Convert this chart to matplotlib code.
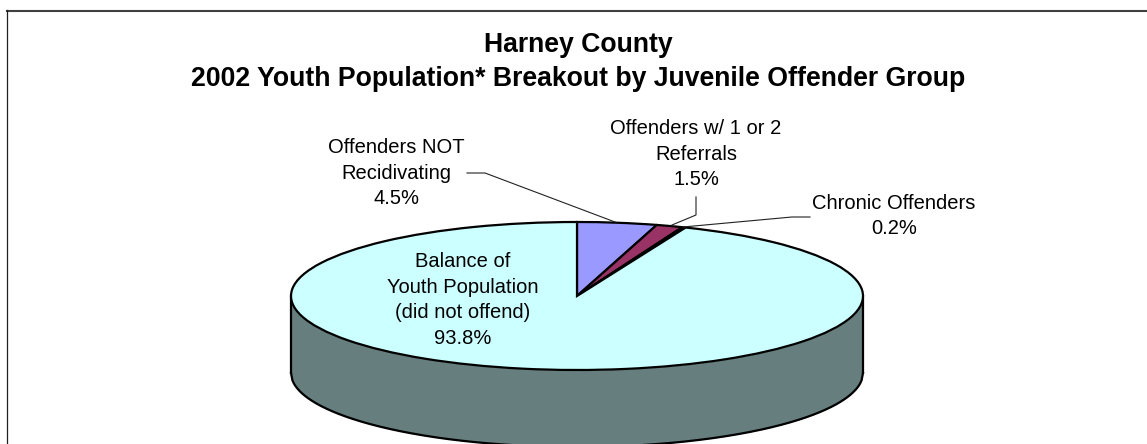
import matplotlib
matplotlib.use('Agg')
import matplotlib.pyplot as plt
import numpy as np

# Harney County youth population shares, clockwise from 12 o'clock
groups = ['Offenders NOT Recidivating', 'Offenders w/ 1 or 2 Referrals',
          'Chronic Offenders', 'Balance of Youth Population (did not offend)']
shares = [4.5, 1.5, 0.2, 93.8]
colors = ['#9999FF', '#993366', '#FFFFCC', '#CCFFFF']
share_labels = ['4.5%', '1.5%', '0.2%', '93.8%']

plt.rcParams['font.family'] = ['Liberation Sans', 'DejaVu Sans']

W, H = 1147, 444
CX, CY, RX, RY, DEPTH = 577, 296, 286, 74, 77

fig = plt.figure(figsize=(W / 100, H / 100), dpi=100)
ax = fig.add_axes([0, 0, 1, 1])
ax.pie(shares, colors=colors, startangle=90, counterclock=False,
       wedgeprops={'edgecolor': 'black', 'linewidth': 1.6, 'joinstyle': 'miter', 'zorder': 3})
ax.set_aspect('auto')
ax.set_xlim(-CX / RX, (W - CX) / RX)
ax.set_ylim((CY - H) / RY, CY / RY)
ax.axis('off')


def px(x, y):
    return (x - CX) / RX, (CY - y) / RY


# side wall of the disc
t = np.linspace(-1, 1, 400)
lower = -np.sqrt(1 - t ** 2)
d = DEPTH / RY
ax.fill_between(t, lower - d, lower, color='#667E7E', lw=0, zorder=1)
ax.plot(t, lower - d, color='black', lw=1.6, zorder=2)
ax.plot([-1, -1], [0, -d], color='black', lw=1.6, zorder=2)
ax.plot([1, 1], [0, -d], color='black', lw=1.6, zorder=2)

# outer frame, cropped on the right and at the bottom
ax.plot(*zip(*[px(*p) for p in [(7, 11), (1147, 11)]]), color='#404040', lw=1.5, zorder=4)
ax.plot(*zip(*[px(*p) for p in [(7, 444), (7, 10)]]), color='#202020', lw=0.9, zorder=4)

ax.text(*px(578, 52), 'Harney County', ha='center', va='baseline', fontsize=19.2, fontweight='bold')
ax.text(*px(578, 86), '2002 Youth Population* Breakout by Juvenile Offender Group',
        ha='center', va='baseline', fontsize=19.2, fontweight='bold')

label_style = {'ha': 'center', 'va': 'center', 'fontsize': 14.5, 'linespacing': 1.43, 'multialignment': 'center'}
ax.text(*px(396, 173), 'Offenders NOT\nRecidivating\n' + share_labels[0], **label_style)
ax.text(*px(696, 154), 'Offenders w/ 1 or 2\nReferrals\n' + share_labels[1], **label_style)
ax.text(*px(894, 216), groups[2] + '\n' + share_labels[2], **label_style)
ax.text(*px(463, 300), 'Balance of\nYouth Population\n(did not offend)\n' + share_labels[3],
        zorder=5, **label_style)

# leader lines
for line in ([(467, 173), (485, 173), (615, 222)],
             [(696, 197), (696, 215), (672, 225)],
             [(810, 217), (792, 217), (683, 227)]):
    ax.plot(*zip(*[px(*p) for p in line]), color='#222222', lw=0.8, zorder=4)

fig.savefig('out.png', dpi=100)
